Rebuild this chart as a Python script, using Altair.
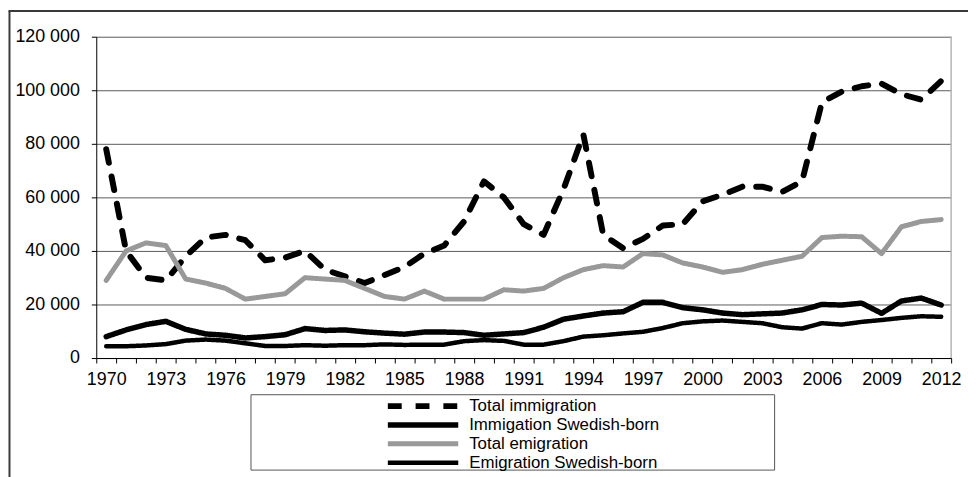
import altair as alt
import pandas as pd

years = list(range(1970, 2013))

total_immigration = [78000, 40000, 30000, 29000, 38000, 45000, 46000, 44000, 36500, 37500,
                     40000, 33000, 30500, 28000, 31000, 34000, 39000, 42000, 51000, 66000,
                     60000, 50000, 46000, 63000, 83500, 46000, 41000, 44500, 49500, 50000,
                     58500, 61000, 64000, 64000, 62000, 66000, 95500, 99500, 101500, 102500,
                     98500, 96500, 103500]
immigration_swedish_born = [8000, 10500, 12500, 13700, 10700, 9000, 8500, 7500, 8000, 8700,
                            11000, 10300, 10500, 9800, 9300, 8900, 9700, 9700, 9500, 8500,
                            9000, 9500, 11500, 14500, 15700, 16800, 17300, 20800, 20800, 18800,
                            18000, 16800, 16200, 16500, 16800, 18000, 20000, 19800, 20500, 16700,
                            21300, 22400, 19800]
total_emigration = [29000, 40000, 43000, 42000, 29500, 28000, 26000, 22000, 23000, 24000,
                    30000, 29500, 29000, 26000, 23000, 22000, 25000, 22000, 22000, 22000,
                    25500, 25000, 26000, 30000, 33000, 34500, 34000, 39000, 38500, 35500,
                    34000, 32000, 33000, 35000, 36500, 38000, 45000, 45500, 45300, 39000,
                    49000, 51000, 51700]
emigration_swedish_born = [4400, 4400, 4700, 5200, 6500, 6900, 6500, 5500, 4500, 4500,
                           4800, 4600, 4800, 4800, 5100, 4900, 5000, 5000, 6300, 6700,
                           6400, 5000, 5000, 6300, 8000, 8500, 9200, 9800, 11200, 13000,
                           13700, 14000, 13500, 13000, 11500, 11000, 13000, 12500, 13500, 14200,
                           15000, 15600, 15400]

series_names = ["Total immigration", "Immigation Swedish-born",
                "Total emigration", "Emigration Swedish-born"]
series_values = [total_immigration, immigration_swedish_born,
                 total_emigration, emigration_swedish_born]
y_ticks = [0, 20000, 40000, 60000, 80000, 100000, 120000]

rows = []
for name, vals in zip(series_names, series_values):
    for yr, v in zip(years, vals):
        rows.append({"year": yr, "value": v, "series": name})
df = pd.DataFrame(rows)

W, H = 862, 324
FONT = "Liberation Sans"

legend = alt.Legend(
    title=None, orient="none", legendX=291, legendY=363,
    symbolType="stroke", symbolSize=5041, symbolStrokeWidth=5,
    clipHeight=19, rowPadding=0,
    padding=0, labelOffset=8, labelFont=FONT, labelFontSize=17,
    labelColor="black", labelLimit=400,
)

lines = alt.Chart(df).mark_line(strokeCap="round", strokeJoin="round").encode(
    x=alt.X("year:O",
            scale=alt.Scale(type="band", paddingInner=0, paddingOuter=0),
            axis=alt.Axis(title=None, tickBand="extent", labelAngle=0,
                          labelExpr="(datum.value - 1970) % 3 == 0 ? datum.label : ''",
                          labelOverlap=False, labelFont=FONT, labelFontSize=18,
                          labelColor="black", labelPadding=8, tickSize=5,
                          tickColor="black", domainColor="black", grid=False)),
    y=alt.Y("value:Q",
            scale=alt.Scale(domain=[0, 120000], nice=False),
            axis=alt.Axis(title=None, values=y_ticks,
                          labelExpr="replace(format(datum.value, ','), ',', ' ')",
                          labelFont=FONT, labelFontSize=18, labelColor="black",
                          labelPadding=12, tickSize=5, tickColor="black",
                          domainColor="black", grid=True, gridColor="#5a5a5a",
                          gridWidth=1)),
    stroke=alt.Stroke("series:N",
                      scale=alt.Scale(domain=series_names,
                                      range=["black", "black", "#999999", "black"]),
                      legend=legend),
    strokeDash=alt.StrokeDash("series:N",
                              scale=alt.Scale(domain=series_names,
                                              range=[[14, 14], [1, 0], [1, 0], [1, 0]]),
                              legend=legend),
    strokeWidth=alt.StrokeWidth("series:N",
                                scale=alt.Scale(domain=series_names,
                                                range=[6, 4.5, 6.5, 7.5]),
                                legend=legend),
)

one = alt.Data(values=[{"k": 1}])

right_border = alt.Chart(one).mark_rule(color="#b5b5b5", strokeWidth=1.5).encode(
    x=alt.value(W), y=alt.value(0), y2=alt.value(H))

legend_box = alt.Chart(one).mark_rect(fill="transparent", stroke="#555555", strokeWidth=1).encode(
    x=alt.value(156), x2=alt.value(684), y=alt.value(361), y2=alt.value(437))

frame_left = alt.Chart(one).mark_rule(color="#3a3a3a", strokeWidth=2).encode(
    x=alt.value(-87.5), y=alt.value(-26), y2=alt.value(460))
frame_top = alt.Chart(one).mark_rule(color="#3a3a3a", strokeWidth=2).encode(
    x=alt.value(-88.5), x2=alt.value(900), y=alt.value(-26))

chart = alt.layer(legend_box, right_border, lines, frame_left, frame_top).properties(
    width=W, height=H,
    autosize=alt.AutoSizeParams(type="none"),
    padding={"left": 89, "top": 27, "right": 17, "bottom": 118},
    background="white",
).configure_view(stroke=None)

chart.save("out.html", embed_options={"renderer": "svg", "actions": False})
